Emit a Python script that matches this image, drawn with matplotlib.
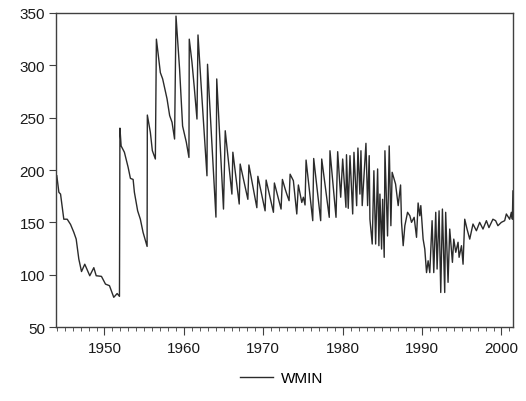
import numpy as np
import matplotlib.pyplot as plt
from matplotlib.ticker import MultipleLocator

plt.rcParams['font.family'] = ['Liberation Sans', 'DejaVu Sans']

# turning points of the series (decimal year, value)
years = [
    1944.00, 1944.26, 1944.47, 1944.88, 1945.31, 1945.73, 1946.14, 1946.44,
    1946.77, 1947.11, 1947.52, 1948.15, 1948.66, 1948.96, 1949.62, 1950.13,
    1950.63, 1951.17, 1951.60, 1951.89, 1951.95, 1952.10, 1952.51, 1952.98,
    1953.27, 1953.61, 1953.77, 1954.18, 1954.52, 1954.86, 1955.37, 1955.40,
    1955.78, 1956.03, 1956.41, 1956.54, 1957.04, 1957.33, 1957.88, 1958.21,
    1958.51, 1958.83, 1959.01, 1959.46, 1959.84, 1960.31, 1960.64, 1960.68,
    1961.02, 1961.31, 1961.65, 1961.78, 1962.15, 1962.48, 1962.91, 1962.98,
    1964.04, 1964.14, 1964.99, 1965.21, 1966.05, 1966.17, 1966.97, 1967.09,
    1968.06, 1968.19, 1969.19, 1969.32, 1970.23, 1970.36, 1971.28, 1971.40,
    1972.24, 1972.41, 1972.75, 1972.96, 1973.25, 1973.38, 1973.79, 1974.22,
    1974.42, 1974.85, 1975.05, 1975.26, 1975.39, 1976.23, 1976.35, 1977.23,
    1977.36, 1978.31, 1978.40, 1979.16, 1979.37, 1979.75, 1980.00, 1980.41,
    1980.48, 1980.70, 1980.92, 1981.26, 1981.42, 1981.76, 1981.92, 1982.17,
    1982.30, 1982.46, 1982.93, 1983.14, 1983.34, 1983.43, 1983.72, 1983.93,
    1984.15, 1984.40, 1984.56, 1984.69, 1984.90, 1985.03, 1985.23, 1985.32,
    1985.65, 1985.86, 1986.07, 1986.23, 1986.66, 1986.99, 1987.29, 1987.41,
    1987.62, 1987.83, 1988.17, 1988.46, 1988.67, 1989.00, 1989.30, 1989.50,
    1989.71, 1989.84, 1990.13, 1990.34, 1990.56, 1990.76, 1990.97, 1991.26,
    1991.47, 1991.72, 1991.89, 1992.14, 1992.35, 1992.56, 1992.85, 1992.97,
    1993.27, 1993.48, 1993.82, 1993.99, 1994.24, 1994.53, 1994.66, 1994.96,
    1995.16, 1995.37, 1995.66, 1996.00, 1996.41, 1996.84, 1997.25, 1997.67,
    1998.10, 1998.42, 1998.92, 1999.26, 1999.55, 1999.98, 2000.40, 2000.61,
    2001.03, 2001.24, 2001.37, 2001.44,
]
wmin = [
    194.5, 178.7, 177.0, 153.0, 153.0, 148.0, 140.5, 134.0,
    115.0, 103.0, 110.0, 99.0, 106.7, 99.0, 98.4, 91.0,
    89.5, 78.4, 82.0, 79.3, 240.0, 223.0, 217.0, 202.6,
    192.0, 191.0, 178.7, 161.0, 153.0, 140.5, 127.0, 252.5,
    236.0, 218.5, 210.5, 325.0, 293.0, 287.0, 268.0, 252.0,
    245.6, 229.6, 347.0, 296.5, 242.0, 226.5, 212.0, 325.0,
    303.0, 279.0, 248.7, 329.0, 283.8, 245.6, 194.5, 301.0,
    155.0, 287.0, 162.7, 237.5, 177.0, 217.0, 167.5, 205.7,
    172.0, 204.8, 164.0, 194.0, 161.0, 190.4, 159.6, 187.6,
    162.7, 191.0, 182.0, 177.0, 170.7, 196.0, 189.8, 158.0,
    185.7, 169.0, 174.0, 166.6, 209.5, 151.6, 211.0, 151.6,
    210.5, 154.8, 218.4, 154.8, 217.5, 174.0, 210.5, 164.4,
    214.6, 163.4, 213.7, 158.0, 216.9, 165.9, 221.0, 177.0,
    218.4, 166.0, 225.5, 166.0, 213.7, 153.0, 129.3, 199.3,
    129.3, 201.0, 127.7, 177.0, 124.5, 172.0, 116.6, 218.4,
    137.0, 223.0, 146.8, 197.8, 186.6, 166.0, 185.7, 150.0,
    127.7, 146.8, 159.6, 156.3, 150.0, 154.8, 135.7, 168.5,
    156.3, 166.0, 134.0, 124.5, 102.0, 113.3, 102.0, 151.6,
    102.0, 159.6, 105.4, 161.0, 83.0, 162.7, 83.0, 159.6,
    92.7, 143.6, 111.8, 134.0, 121.4, 131.0, 116.6, 127.7,
    110.0, 153.0, 143.6, 134.0, 148.4, 142.0, 150.0, 143.6,
    151.6, 145.0, 153.0, 151.6, 146.8, 150.0, 151.6, 158.0,
    153.0, 159.6, 153.0, 180.0,
]

fig = plt.figure(figsize=(5.26, 4.02), dpi=100)
ax = fig.add_axes([0.1065, 0.184, 0.8688, 0.7812])

ax.plot(years, wmin, color='#2b2b2b', linewidth=1.0, label='WMIN')

ax.set_xlim(1943.9, 2001.45)
ax.set_ylim(50, 350)
ax.xaxis.set_major_locator(MultipleLocator(10))
ax.xaxis.set_minor_locator(MultipleLocator(1))
ax.yaxis.set_major_locator(MultipleLocator(50))

for side in ['left', 'right', 'top', 'bottom']:
    ax.spines[side].set_color('#404040')
    ax.spines[side].set_linewidth(1.0)

ax.tick_params(axis='both', which='both', direction='out', colors='#404040',
               labelcolor='#1a1a1a', labelsize=11, top=False, right=False)
ax.tick_params(axis='x', which='major', length=6, pad=4)
ax.tick_params(axis='x', which='minor', length=3)
ax.tick_params(axis='y', which='major', length=5, pad=3)

fig.legend(loc='lower center', bbox_to_anchor=(0.535, 0.005), frameon=False,
           fontsize=11, handlelength=2.2, handletextpad=0.5)

fig.savefig('out.png', dpi=100)
